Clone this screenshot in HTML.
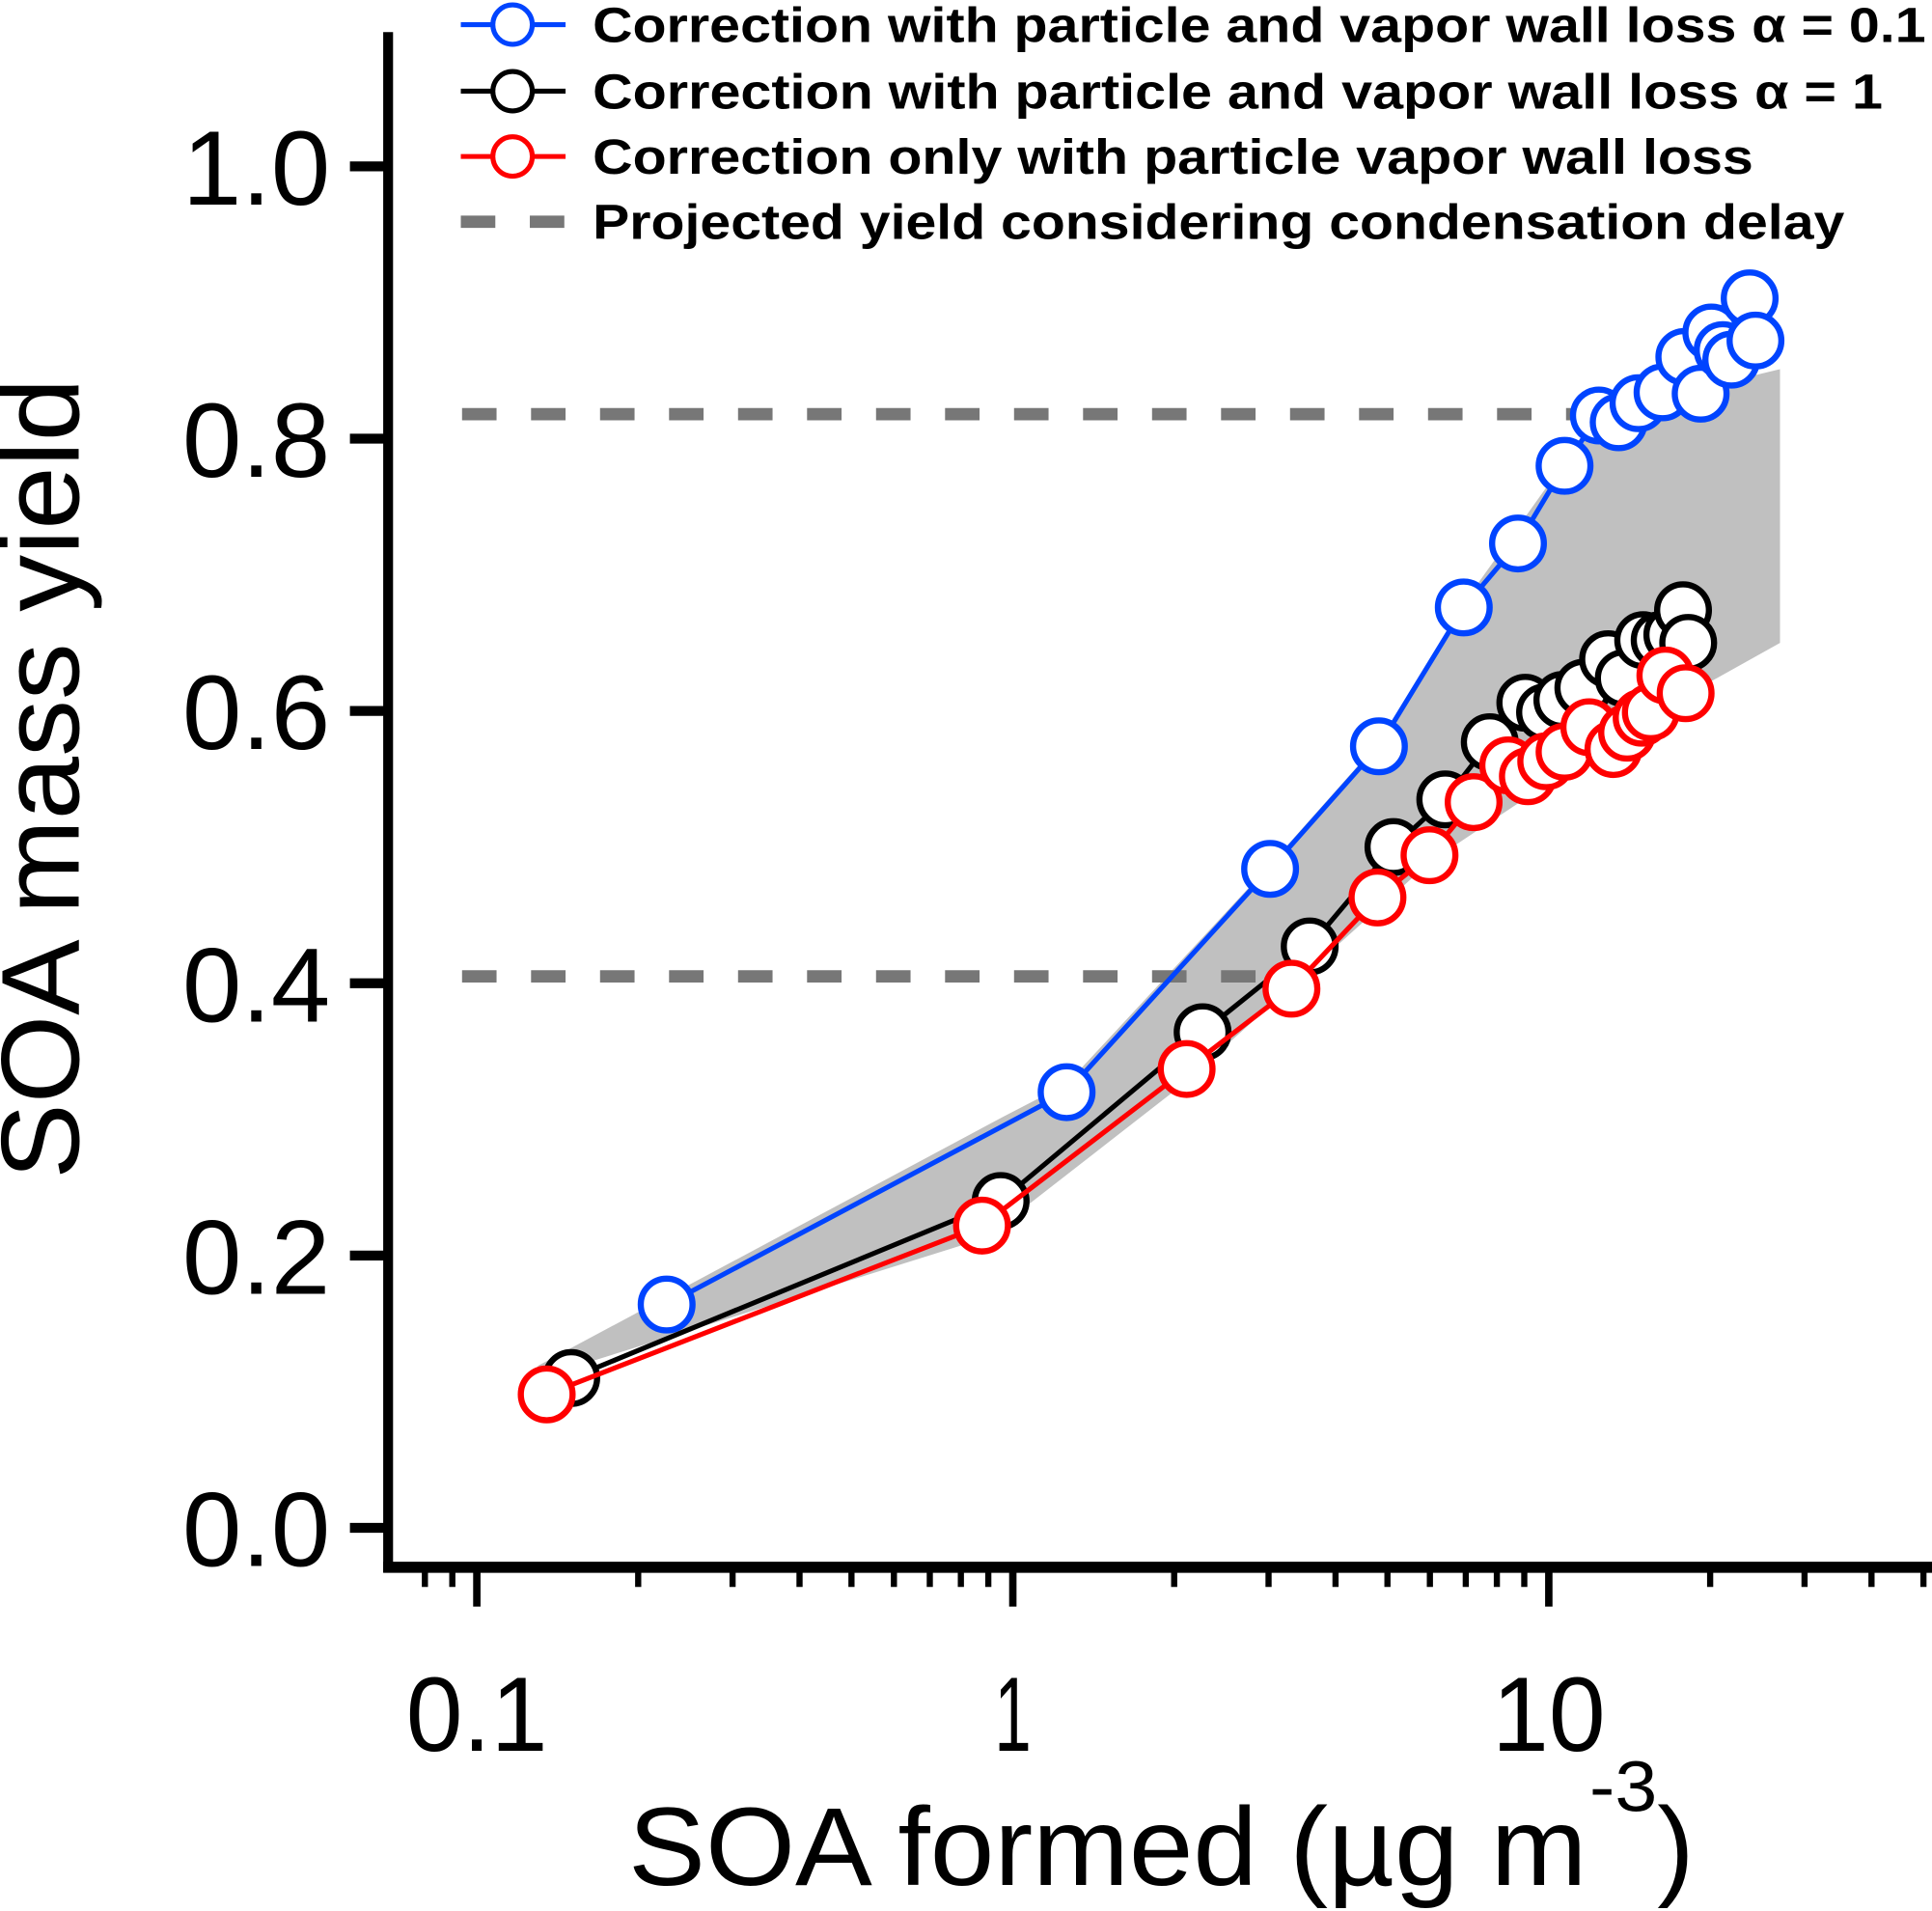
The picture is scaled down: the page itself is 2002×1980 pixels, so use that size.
<!DOCTYPE html>
<html><head><meta charset="utf-8"><style>
html,body{margin:0;padding:0;background:#fff;}
svg{display:block;font-family:"Liberation Sans",Arial,sans-serif;}
</style></head><body>
<svg id="chart" width="2002" height="1980" viewBox="0 0 1568 1551" preserveAspectRatio="none" xmlns="http://www.w3.org/2000/svg">
<g id="band"></g>
<g id="dashes"></g>
<g id="series"></g>
<g id="axes"></g>
<g id="legend"></g>
<text transform="translate(64,632) rotate(-90)" text-anchor="middle" font-size="90" textLength="650" lengthAdjust="spacingAndGlyphs">SOA mass yield</text>
<text x="510" y="1530" font-size="90" textLength="778" lengthAdjust="spacingAndGlyphs">SOA formed (µg m</text>
<text x="1290" y="1470" font-size="58" textLength="55" lengthAdjust="spacingAndGlyphs">-3</text>
<text x="1345" y="1530" font-size="90">)</text>
</svg>
<script>
const blueX=[0.226,1.26,3.02,4.82,6.94,8.76,10.7,12.4,13.5,14.7,16.3,17.9,19.2,20.1,21.1,21.9,23.7,24.3];
const blueY=[0.164,0.320,0.484,0.574,0.676,0.723,0.780,0.817,0.812,0.826,0.834,0.860,0.833,0.878,0.865,0.858,0.903,0.872];
const blackX=[0.150,0.949,2.26,3.58,5.13,6.41,7.76,9.04,9.84,10.6,11.6,12.9,13.8,15.0,16.1,17.0,17.8,18.2];
const blackY=[0.110,0.240,0.364,0.427,0.500,0.535,0.577,0.606,0.599,0.608,0.617,0.638,0.624,0.652,0.652,0.656,0.674,0.650];
const redX=[0.135,0.876,2.11,3.31,4.79,5.99,7.24,8.40,9.14,9.89,10.7,11.9,13.2,14.0,14.9,15.5,16.5,18.0];
const redY=[0.098,0.222,0.337,0.396,0.463,0.494,0.533,0.560,0.552,0.563,0.570,0.588,0.572,0.584,0.595,0.599,0.626,0.613];
const bandUpperX=[0.13,0.96,1.26,3.02,4.82,6.94,10.7,12.4,27.0];
const bandUpperY=[0.119,0.302,0.326,0.487,0.577,0.679,0.783,0.819,0.851];
const bandLowerX=[27.0,15.5,6.0,2.08,0.89,0.13];
const bandLowerY=[0.650,0.597,0.489,0.326,0.213,0.110];
const projectedYields=[0.818,0.405];
const projectedEndX=[12.0,3.05];
const yTicks=[0,0.2,0.4,0.6,0.8,1.0];
const yTickLabels=["0.0","0.2","0.4","0.6","0.8","1.0"];
const xMajor=[0.1,1,10];
const xMajorLabels=["0.1","1","10"];
const xMinor=[0.08,0.09,0.2,0.3,0.4,0.5,0.6,0.7,0.8,0.9,2,3,4,5,6,7,8,9,20,30,40,50];

const NS="http://www.w3.org/2000/svg";
const xs=v=>822+435*Math.log10(v);
const ys=v=>1240-1105*v;
function mk(tag,attrs,parent){const e=document.createElementNS(NS,tag);for(const k in attrs)e.setAttribute(k,attrs[k]);parent.appendChild(e);return e;}

const bandG=document.getElementById('band');
let pts=[];
bandUpperX.forEach((x,i)=>pts.push(xs(x)+','+ys(bandUpperY[i])));
bandLowerX.forEach((x,i)=>pts.push(xs(x)+','+ys(bandLowerY[i])));
const band=mk('polygon',{points:pts.join(' '),fill:'#c0c0c0'},bandG);



const dG=document.getElementById('dashes');
projectedYields.forEach((v,i)=>{
  const l=mk('line',{x1:375,x2:xs(projectedEndX[i]),y1:ys(v),y2:ys(v),stroke:'#777','stroke-width':10,'stroke-dasharray':'28,28'},dG);
  
  
});

const sG=document.getElementById('series');
function series(X,Y,color,name){
  const g=mk('g',{},sG);
  
  
  const pl=mk('polyline',{points:X.map((x,i)=>xs(x)+','+ys(Y[i])).join(' '),fill:'none',stroke:color,'stroke-width':4},g);
  
  
  X.forEach((x,i)=>{
    const c=mk('circle',{cx:xs(x),cy:ys(Y[i]),r:21,fill:'#fff',stroke:color,'stroke-width':5},g);
    
    
  });
}
series(blackX,blackY,'#000','series-alpha-1');
series(redX,redY,'#ff0000','series-particle-only');
series(blueX,blueY,'#0044ff','series-alpha-0.1');

const aG=document.getElementById('axes');
let e=mk('line',{x1:315,x2:315,y1:26,y2:1276,stroke:'#000','stroke-width':8},aG);


e=mk('line',{x1:311,x2:1568,y1:1272,y2:1272,stroke:'#000','stroke-width':9},aG);


yTicks.forEach((v,i)=>{
  const t=mk('line',{x1:284,x2:315,y1:ys(v),y2:ys(v),stroke:'#000','stroke-width':8},aG);
  
  
  const tx=mk('text',{x:268,y:ys(v)+31,'text-anchor':'end','font-size':86,textLength:120,lengthAdjust:'spacingAndGlyphs'},aG);
  tx.textContent=yTickLabels[i];
  
  
});
const xLabW=[115,30,92];
xMajor.forEach((v,i)=>{
  const t=mk('line',{x1:xs(v),x2:xs(v),y1:1272,y2:1304,stroke:'#000','stroke-width':6},aG);
  
  
  const tx=mk('text',{x:xs(v),y:1421,'text-anchor':'middle','font-size':86,textLength:xLabW[i],lengthAdjust:'spacingAndGlyphs'},aG);
  tx.textContent=xMajorLabels[i];
  
  
});
xMinor.forEach(v=>{
  const t=mk('line',{x1:xs(v),x2:xs(v),y1:1272,y2:1288,stroke:'#000','stroke-width':5},aG);
  
  
});

const lG=document.getElementById('legend');
const legendLabels=["Correction with particle and vapor wall loss α = 0.1","Correction with particle and vapor wall loss α = 1","Correction only with particle vapor wall loss","Projected yield considering condensation delay"];
const legendColors=['#0044ff','#000','#ff0000','#777'];
const legendY=[20,74,127,180];
const legendW=[1082,1047,942,1016];
legendLabels.forEach((lab,i)=>{
  const g=mk('g',{},lG);
  
  
  if(i<3){
    mk('line',{x1:374,x2:459,y1:legendY[i],y2:legendY[i],stroke:legendColors[i],'stroke-width':4},g);
    mk('circle',{cx:416,cy:legendY[i],r:16,fill:'#fff',stroke:legendColors[i],'stroke-width':4},g);
  } else {
    mk('line',{x1:374,x2:459,y1:legendY[i],y2:legendY[i],stroke:'#777','stroke-width':10,'stroke-dasharray':'28,28'},g);
  }
  const t=mk('text',{x:481,y:legendY[i]+14,'font-size':40,'font-weight':'bold',textLength:legendW[i],lengthAdjust:'spacingAndGlyphs'},g);
  t.textContent=lab;
});
</script>
</body></html>
